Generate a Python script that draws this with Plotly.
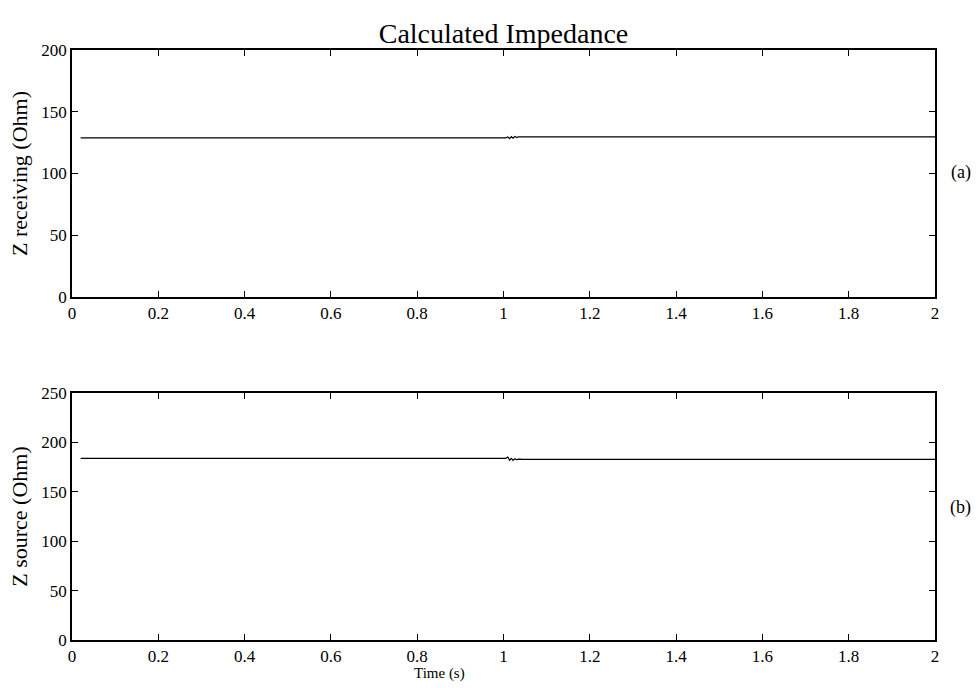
import plotly.graph_objects as go
from plotly.subplots import make_subplots

# Sampled impedance traces (time in seconds, impedance in Ohm)
t_recv = [0.02, 0.5, 0.995, 1.005, 1.01, 1.014, 1.018, 1.022, 1.026, 1.03, 1.036, 1.045, 1.5, 2.0]
z_recv = [128.8, 128.8, 128.8, 128.8, 129.6, 128.2, 129.8, 128.5, 129.9, 129.2, 129.7, 129.7, 129.7, 129.7]

t_src = [0.02, 0.5, 0.995, 1.005, 1.01, 1.014, 1.018, 1.022, 1.026, 1.03, 1.036, 1.045, 1.5, 2.0]
z_src = [183.9, 183.9, 183.9, 183.9, 185.2, 182.0, 183.8, 181.8, 183.4, 182.6, 183.0, 182.9, 182.9, 182.9]

x_ticks = [0, 0.2, 0.4, 0.6, 0.8, 1, 1.2, 1.4, 1.6, 1.8, 2]
x_tick_text = ["0", "0.2", "0.4", "0.6", "0.8", "1", "1.2", "1.4", "1.6", "1.8", "2"]
y_ticks_recv = [0, 50, 100, 150, 200]
y_ticks_src = [0, 50, 100, 150, 200, 250]

FONT = "Liberation Serif"

fig = make_subplots(rows=2, cols=1, vertical_spacing=0.1628)

fig.add_trace(go.Scatter(x=t_recv, y=z_recv, mode="lines",
                         line=dict(color="black", width=1.2), showlegend=False), row=1, col=1)
fig.add_trace(go.Scatter(x=t_src, y=z_src, mode="lines",
                         line=dict(color="black", width=1.2), showlegend=False), row=2, col=1)

axis_style = dict(showline=True, linecolor="black", linewidth=1.5, mirror="ticks",
                  ticks="inside", ticklen=6, tickwidth=1, tickcolor="black",
                  showgrid=False, zeroline=False,
                  tickfont=dict(family=FONT, size=17, color="black"))

for r in (1, 2):
    fig.update_xaxes(range=[0, 2], tickvals=x_ticks, ticktext=x_tick_text, row=r, col=1, **axis_style)

fig.update_yaxes(range=[0, 200], tickvals=y_ticks_recv, row=1, col=1,
                 title=dict(text="Z receiving (Ohm)", font=dict(family=FONT, size=22, color="black"), standoff=8),
                 **axis_style)
fig.update_yaxes(range=[0, 250], tickvals=y_ticks_src, row=2, col=1,
                 title=dict(text="Z source (Ohm)", font=dict(family=FONT, size=22, color="black"), standoff=8),
                 **axis_style)

# x-axis label under the tick labels of the lower panel
fig.add_annotation(text="Time (s)", x=0.426, y=-0.0576, xref="paper", yref="paper",
                   xanchor="center", yanchor="middle", showarrow=False,
                   font=dict(family=FONT, size=15, color="black"))

fig.add_annotation(text="(a)", x=1.030, y=0.793, xref="paper", yref="paper",
                   xanchor="center", yanchor="middle",
                   showarrow=False, font=dict(family=FONT, size=18, color="black"))
fig.add_annotation(text="(b)", x=1.030, y=0.224, xref="paper", yref="paper",
                   xanchor="center", yanchor="middle",
                   showarrow=False, font=dict(family=FONT, size=18, color="black"))

fig.update_layout(
    width=979, height=688,
    margin=dict(l=72, r=44, t=50, b=48),
    paper_bgcolor="white", plot_bgcolor="white",
    font=dict(family=FONT, color="black"),
    title=dict(text="Calculated Impedance", x=0.5, xref="paper", y=1 - 33 / 688, yanchor="middle",
               font=dict(family=FONT, size=28, color="black")),
)

fig.write_html("out.html")
